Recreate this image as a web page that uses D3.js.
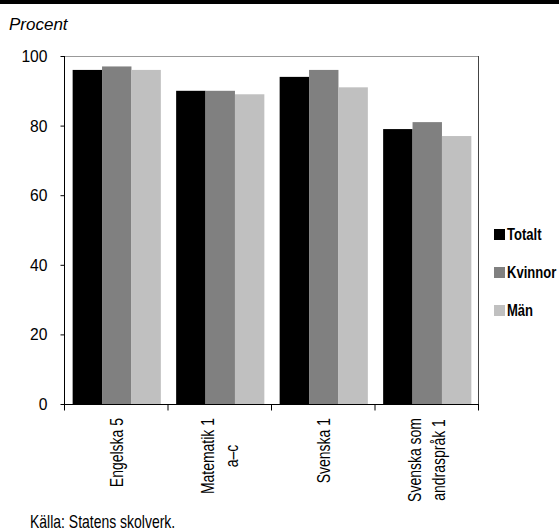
<!DOCTYPE html>
<html><head><meta charset="utf-8">
<script src="https://cdn.jsdelivr.net/npm/d3@7"></script>
<style>
body{margin:0;background:#fff;}
text{font-family:"Liberation Sans",Arial,sans-serif;}
</style></head>
<body><svg id="c" width="559" height="531"></svg>
<script>
const categories = [["Engelska 5"], ["Matematik 1", "a–c"], ["Svenska 1"], ["Svenska som", "andraspråk 1"]];
const seriesNames = ["Totalt", "Kvinnor", "Män"];
const totalt = [96, 90, 94, 79];
const kvinnor = [97, 90, 96, 81];
const man = [96, 89, 91, 77];
const yTicks = [0, 20, 40, 60, 80, 100];
const colors = ["#000000", "#808080", "#c0c0c0"];
const yTitle = "Procent";
const source = "Källa: Statens skolverk.";

const series = [totalt, kvinnor, man];
const svg = d3.select("#c");
const W = 559, H = 531;
const m = {l: 65, r: 479, t: 56, b: 404};

function narrow(sel, sx) {
  sel.each(function() {
    const w = this.getComputedTextLength();
    d3.select(this).attr("textLength", w * sx).attr("lengthAdjust", "spacingAndGlyphs");
  });
  return sel;
}

svg.append("rect").attr("x", 0).attr("y", 0).attr("width", W).attr("height", 4).attr("fill", "#000");

const x = d3.scaleBand().domain(d3.range(categories.length)).range([m.l, m.r]).paddingInner(0).paddingOuter(0);
const xs = d3.scaleBand().domain(d3.range(series.length)).range([0, x.bandwidth()]).paddingInner(0).paddingOuter(0.26);
const y = d3.scaleLinear().domain([0, 100]).range([m.b, m.t]);

// frame top/right
svg.append("line").attr("x1", m.l).attr("x2", m.r).attr("y1", m.t + 0.5).attr("y2", m.t + 0.5).attr("stroke", "#999").attr("stroke-width", 1);
svg.append("line").attr("x1", m.r - 0.5).attr("x2", m.r - 0.5).attr("y1", m.t).attr("y2", m.b).attr("stroke", "#444").attr("stroke-width", 1);

// bars
series.forEach((vals, si) => {
  svg.append("g").selectAll("rect").data(vals).join("rect")
    .attr("x", (d, i) => x(i) + xs(si))
    .attr("width", xs.bandwidth())
    .attr("y", d => y(d))
    .attr("height", d => y(0) - y(d))
    .attr("fill", colors[si]);
});

// y axis
const ya = svg.append("g").attr("transform", `translate(${m.l - 0.5},0)`)
  .call(d3.axisLeft(y).tickValues(yTicks).tickSize(4).tickPadding(13).tickFormat(d3.format("d")));
ya.select(".domain").attr("stroke", "#000").attr("d", `M0,${m.t}V${m.b}`);
ya.selectAll(".tick line").attr("stroke", "#000");
ya.selectAll("text").attr("font-size", 17).attr("fill", "#000").style("font-family", '"Liberation Sans",Arial,sans-serif');
narrow(ya.selectAll("text"), 0.92);

// x axis
const xa = svg.append("g").attr("transform", `translate(0,${m.b + 0.5})`);
xa.append("line").attr("x1", m.l - 1).attr("x2", m.r).attr("y1", 0).attr("y2", 0).attr("stroke", "#000");
const bounds = d3.range(categories.length + 1).map(i => i < categories.length ? x(i) : m.r);
xa.selectAll(".tk").data(bounds).join("line").attr("class", "tk")
  .attr("x1", d => d - 0.5).attr("x2", d => d - 0.5).attr("y1", 0).attr("y2", 6).attr("stroke", "#000");

const SXL = 0.79;
categories.forEach((lines, i) => {
  const cx = x(i) + x.bandwidth() / 2;
  const lh = 24;
  const g = svg.append("g").attr("transform", `translate(${cx},418) rotate(-90)`);
  const ts = lines.map((ln, k) => g.append("text").text(ln).attr("font-size", 17.7).attr("fill", "#000")
    .attr("text-anchor", "middle")
    .attr("dy", "0.35em")
    .attr("y", (k - (lines.length - 1) / 2) * lh));
  const maxW = d3.max(ts, t => t.node().getComputedTextLength()) * SXL;
  ts.forEach(t => { narrow(t, SXL); t.attr("x", -maxW / 2); });
});

// titles
svg.append("text").attr("x", 9).attr("y", 30).attr("font-size", 17).attr("font-style", "italic").text(yTitle);
narrow(svg.append("text").attr("x", 30).attr("y", 528).attr("font-size", 17.7).text(source), 0.79);

// legend
const lg = svg.append("g");
seriesNames.forEach((n, i) => {
  const cy = 234 + i * 38;
  lg.append("rect").attr("x", 494).attr("y", cy - 5).attr("width", 11).attr("height", 11).attr("fill", colors[i]);
  lg.append("g").attr("transform", `translate(507,${cy}) scale(0.8,1)`)
    .append("text").attr("x", 0).attr("y", 0).attr("dy", "0.36em").attr("font-size", 16.3).attr("font-weight", "bold").text(n);
});
</script></body></html>
